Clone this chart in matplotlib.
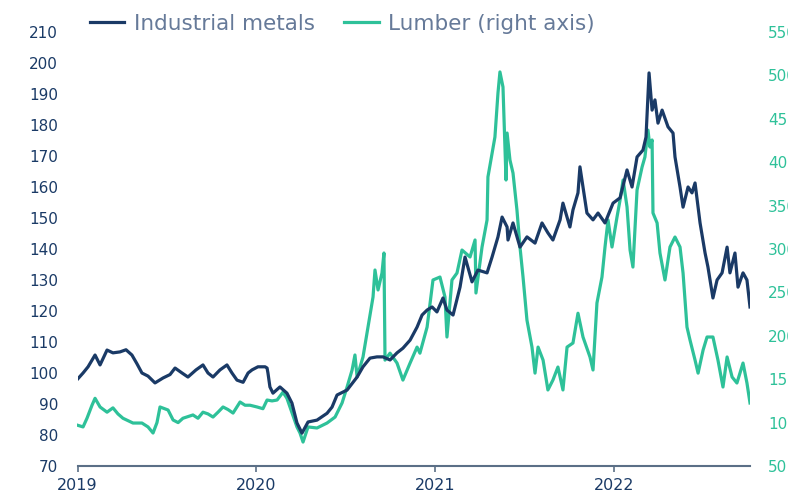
import matplotlib
matplotlib.use("Agg")
import matplotlib.pyplot as plt

# ---- data (time in decimal years) ----
metals_t = [2019.000, 2019.031, 2019.059, 2019.098, 2019.126, 2019.165, 2019.198, 2019.237, 2019.271, 2019.304,
            2019.332, 2019.360, 2019.394, 2019.433, 2019.478, 2019.517, 2019.545, 2019.584, 2019.617, 2019.662,
            2019.701, 2019.729, 2019.757, 2019.796, 2019.835, 2019.863, 2019.891, 2019.925, 2019.953, 2019.975,
            2020.008, 2020.048, 2020.059, 2020.064, 2020.075, 2020.092, 2020.131, 2020.170, 2020.198, 2020.226,
            2020.254, 2020.288, 2020.338, 2020.394, 2020.422, 2020.450, 2020.506, 2020.562, 2020.595, 2020.634,
            2020.673, 2020.707, 2020.746, 2020.785, 2020.818, 2020.858, 2020.897, 2020.925, 2020.953, 2020.981,
            2021.008, 2021.042, 2021.064, 2021.098, 2021.137, 2021.165, 2021.204, 2021.237, 2021.288, 2021.316,
            2021.349, 2021.372, 2021.400, 2021.405, 2021.433, 2021.472, 2021.511, 2021.556, 2021.595, 2021.628,
            2021.656, 2021.696, 2021.712, 2021.751, 2021.768, 2021.796, 2021.807, 2021.824, 2021.846, 2021.880,
            2021.908, 2021.947, 2021.992, 2022.031, 2022.070, 2022.098, 2022.126, 2022.159, 2022.176, 2022.193,
            2022.210, 2022.226, 2022.243, 2022.266, 2022.299, 2022.327, 2022.338, 2022.366, 2022.383, 2022.411,
            2022.433, 2022.450, 2022.478, 2022.506, 2022.522, 2022.550, 2022.573, 2022.601, 2022.629, 2022.645,
            2022.673, 2022.690, 2022.718, 2022.740, 2022.757]
metals_v = [98, 100, 102, 105.8, 102.6, 107.4, 106.5, 106.8, 107.5, 105.8,
            103, 100, 99, 96.8, 98.4, 99.5, 101.6, 100, 98.7, 101,
            102.6, 100, 98.7, 101, 102.6, 100, 97.7, 97, 100, 101,
            102, 102, 101.6, 100, 95.5, 93.5, 95.5, 93.5, 90.3, 83.9,
            80.6, 84.2, 84.8, 87, 89, 92.9, 94.5, 98.7, 102, 104.8,
            105.2, 105.2, 104.2, 106.5, 108, 110.6, 114.8, 118.7, 120.3, 121.3,
            119.7, 124.2, 120.3, 118.7, 127.7, 137.4, 129.4, 133.2, 132.3, 137.4,
            143.9, 150.3, 147.1, 142.9, 148.4, 140.6, 143.9, 141.9, 148.4, 145.2,
            142.9, 149.4, 154.8, 147.1, 152.6, 158.1, 166.5, 160, 151.6, 149.4,
            151.6, 148.4, 154.8, 156.5, 165.5, 160, 169.7, 171.9, 176.1, 196.8,
            184.8, 188.1, 180.6, 184.8, 179.4, 177.4, 169.7, 160, 153.5, 160,
            158.1, 161.3, 148.4, 138.7, 134.2, 124.2, 130, 132.3, 140.6, 132.3,
            138.7, 127.7, 132.3, 130, 121.3]

lumber_t = [2019.000, 2019.031, 2019.053, 2019.081, 2019.098, 2019.126, 2019.165, 2019.198, 2019.226, 2019.254,
            2019.310, 2019.360, 2019.394, 2019.422, 2019.444, 2019.461, 2019.506, 2019.534, 2019.562, 2019.589,
            2019.645, 2019.673, 2019.701, 2019.729, 2019.757, 2019.785, 2019.813, 2019.841, 2019.869, 2019.908,
            2019.936, 2019.964, 2020.003, 2020.036, 2020.059, 2020.087, 2020.115, 2020.148, 2020.170, 2020.187,
            2020.226, 2020.243, 2020.260, 2020.288, 2020.338, 2020.394, 2020.439, 2020.478, 2020.506, 2020.534,
            2020.550, 2020.562, 2020.595, 2020.623, 2020.651, 2020.662, 2020.679, 2020.701, 2020.712, 2020.718,
            2020.746, 2020.785, 2020.818, 2020.858, 2020.897, 2020.913, 2020.953, 2020.986, 2021.025, 2021.053,
            2021.064, 2021.092, 2021.120, 2021.148, 2021.193, 2021.221, 2021.226, 2021.260, 2021.288, 2021.293,
            2021.332, 2021.349, 2021.360, 2021.377, 2021.394, 2021.400, 2021.416, 2021.433, 2021.455, 2021.472,
            2021.489, 2021.511, 2021.539, 2021.556, 2021.573, 2021.601, 2021.628, 2021.656, 2021.684, 2021.712,
            2021.735, 2021.768, 2021.796, 2021.824, 2021.863, 2021.880, 2021.902, 2021.930, 2021.947, 2021.964,
            2021.986, 2022.014, 2022.031, 2022.048, 2022.070, 2022.087, 2022.103, 2022.126, 2022.154, 2022.170,
            2022.187, 2022.198, 2022.210, 2022.215, 2022.238, 2022.254, 2022.282, 2022.310, 2022.338, 2022.366,
            2022.383, 2022.405, 2022.422, 2022.450, 2022.467, 2022.495, 2022.517, 2022.550, 2022.578, 2022.606,
            2022.629, 2022.657, 2022.684, 2022.718, 2022.740, 2022.757]
lumber_v = [97, 95, 105, 120, 128, 118, 112, 117, 110, 105,
            99.5, 99.5, 95, 88, 100, 118, 114.5, 103, 100, 105,
            108.8, 105, 112, 110, 106.4, 112, 118, 115, 111, 123.7,
            120, 120, 118, 116, 126, 125, 126, 135, 128, 118,
            95, 88, 77.6, 95, 93.8, 99.5, 106.4, 122.6, 141, 160.6,
            177.9, 152.5, 175.6, 210, 244.7, 275.8, 252.8, 272.3, 295.4, 172,
            180, 168.6, 149, 168.6, 187, 180, 210, 264.3, 267.7, 244.7,
            198.6, 264.3, 272.3, 298.8, 290.8, 310.4, 249.3, 302.3, 333.4, 383,
            429, 479.7, 504, 486.6, 379.5, 433.6, 402.5, 387.5, 345, 302.3,
            267.7, 218, 187, 157, 187, 172, 137.6, 149, 164, 137.6,
            187, 191.7, 226, 198.6, 175.6, 160.6, 237.8, 267.7, 302.3, 333.4,
            302.3, 336.8, 356.4, 379.5, 348.4, 298.8, 279.2, 368, 394.4, 406,
            437, 417.5, 425.6, 341.5, 330, 295.4, 264.3, 302.3, 313.8, 302.3,
            272.3, 210, 195, 172, 157, 183.6, 198.6, 198.6, 172, 141,
            175.6, 152.5, 145.6, 168.6, 145.6, 122.6]

left_ticks = list(range(70, 211, 10))
right_ticks = list(range(50, 551, 50))
year_ticks = [2019, 2020, 2021, 2022]
series_names = ["Industrial metals", "Lumber (right axis)"]

NAVY = "#1A3A66"
TEAL = "#2EC199"
AXIS = "#5B6F86"
LEG_TXT = "#667A99"

plt.rcParams['font.family'] = ['DejaVu Sans']

fig = plt.figure(figsize=(7.88, 4.99), dpi=100)
ax = fig.add_axes([77.5 / 788, 33 / 499, 672.5 / 788, 434 / 499])
ax2 = ax.twinx()

l1, = ax.plot(metals_t, metals_v, color=NAVY, lw=2.3, label=series_names[0],
              solid_joinstyle='round', zorder=3)
l2, = ax2.plot(lumber_t, lumber_v, color=TEAL, lw=2.3, label=series_names[1],
               solid_joinstyle='round', zorder=2)
ax.set_zorder(ax2.get_zorder() + 1)
ax.patch.set_visible(False)

ax.set_xlim(2019.0, 2022.757)
ax.set_ylim(70, 210)
ax2.set_ylim(50, 550)
ax.set_yticks(left_ticks)
ax2.set_yticks(right_ticks)
ax.set_xticks(year_ticks)
ax.set_xticklabels([str(y) for y in year_ticks])

for a in (ax, ax2):
    for s in a.spines.values():
        s.set_visible(False)
ax.spines['bottom'].set_visible(True)
ax.spines['bottom'].set_color(AXIS)
ax.spines['bottom'].set_linewidth(1.5)

ax.tick_params(axis='y', length=0, pad=14, labelsize=11, labelcolor=NAVY)
ax2.tick_params(axis='y', length=0, pad=13, labelsize=11, labelcolor=TEAL)
ax.tick_params(axis='x', length=4, width=1.2, color=AXIS, pad=5, labelsize=11.5, labelcolor=NAVY)

fig.legend(handles=[l1, l2], loc='center left', bbox_to_anchor=(90 / 788, 1 - 24 / 499),
           ncol=2, frameon=False, fontsize=15.5, labelcolor=LEG_TXT,
           handlelength=1.6, handletextpad=0.45, columnspacing=1.35, borderaxespad=0, borderpad=0)

fig.savefig("out.png", dpi=100)
